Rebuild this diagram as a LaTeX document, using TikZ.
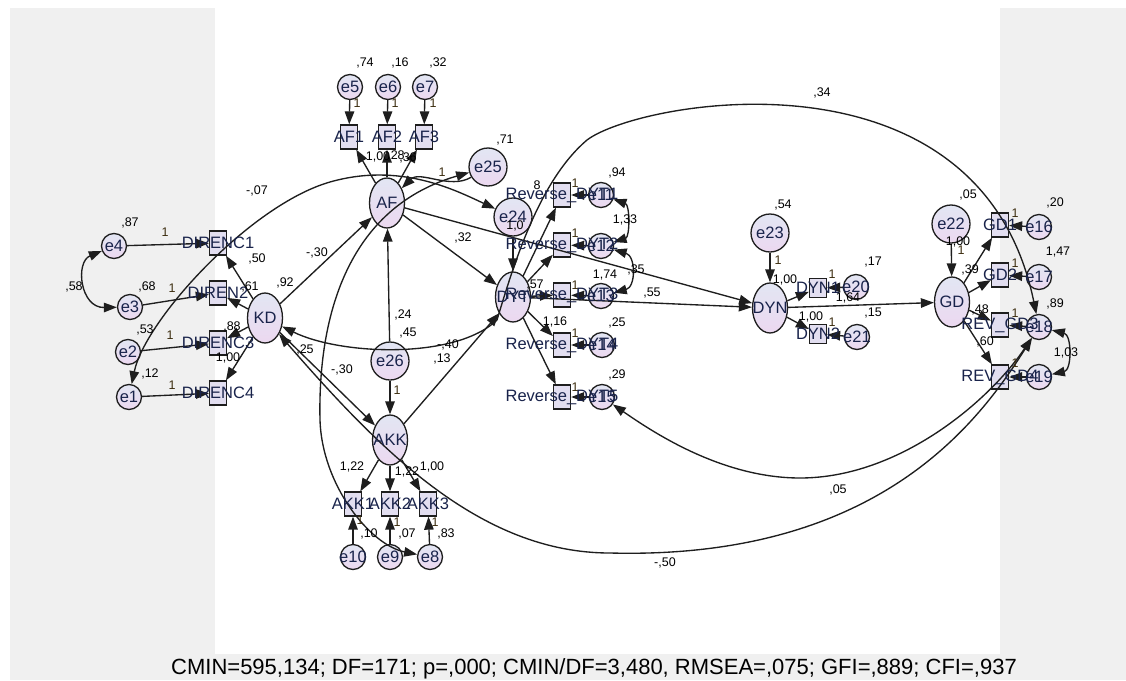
\documentclass[tikz,border=0pt]{standalone}
\usepackage{fontspec}
\setmainfont{Liberation Sans}
\usetikzlibrary{shapes.geometric,arrows.meta}
\definecolor{lc}{RGB}{30,30,30}
\definecolor{ft}{RGB}{226,230,243}
\definecolor{fb}{RGB}{236,216,240}
\definecolor{boxc}{RGB}{226,222,240}
\definecolor{nc}{RGB}{25,35,75}
\definecolor{onec}{RGB}{60,45,15}
\definecolor{bgg}{RGB}{240,240,240}
\newcommand\nmfont{\fontsize{16.5}{18}\selectfont}
\newcommand\nufont{\fontsize{12.5}{14}\selectfont}
\begin{document}
\begin{tikzpicture}[x=1pt,y=-1pt,
  lat/.style={ellipse,draw=lc,line width=1.3pt,top color=ft,bottom color=fb,minimum width=35pt,minimum height=50pt,inner sep=0pt},
  errs/.style={circle,draw=lc,line width=1.3pt,top color=ft,bottom color=fb,minimum size=25pt,inner sep=0pt},
  errl/.style={circle,draw=lc,line width=1.3pt,top color=ft,bottom color=fb,minimum size=38pt,inner sep=0pt},
  obs/.style={rectangle,draw=lc,line width=1.3pt,fill=boxc,minimum width=17pt,minimum height=24pt,inner sep=0pt},
  obss/.style={obs,minimum height=19pt},
  nm/.style={font=\nmfont,text=nc,inner sep=0pt},
  nu/.style={font=\nufont,text=black,inner sep=0pt},
  one/.style={nu,text=onec},
  arr/.style={draw=lc,line width=1.35pt,-{Triangle[length=13pt,width=9.5pt]}},
  cov/.style={draw=lc,line width=1.35pt,{Triangle[length=13pt,width=9.5pt]}-{Triangle[length=13pt,width=9.5pt]}},
]
\useasboundingbox (0,0) rectangle (1126,680);
\fill[white] (0,0) rectangle (1126,680);
\fill[bgg] (10,8) rectangle (1126,680);
\fill[white] (215,8) rectangle (1000,654);

% ---------- shapes ----------
\node[errs] (e1) at (129,397) {};
\node[errs] (e2) at (128,352) {};
\node[errs] (e3) at (130,307) {};
\node[errs] (e4) at (114,246) {};
\node[obs] (D1) at (218,243) {};
\node[obs] (D2) at (218,293) {};
\node[obs] (D3) at (218,343) {};
\node[obs] (D4) at (218,393) {};
\node[lat] (KD) at (265,318) {};

\node[lat] (AF) at (387,203) {};
\node[obs] (AF1) at (349,137) {};
\node[obs] (AF2) at (387,137) {};
\node[obs] (AF3) at (424,137) {};
\node[errs] (e5) at (350,87) {};
\node[errs] (e6) at (388,87) {};
\node[errs] (e7) at (425,87) {};
\node[errl] (e25) at (488,167) {};
\node[errl] (e24) at (513,217) {};
\node[errl] (e26) at (390,361) {};

\node[lat] (AKK) at (390,440) {};
\node[obs] (K1) at (353,504) {};
\node[obs] (K2) at (390,504) {};
\node[obs] (K3) at (428,504) {};
\node[errs] (e10) at (353,557) {};
\node[errs] (e9) at (390,557) {};
\node[errs] (e8) at (430,557) {};

\node[lat] (DYT) at (513,297) {};
\node[obs] (R1) at (562,195) {};
\node[obs] (R2) at (562,245) {};
\node[obs] (R3) at (562,295) {};
\node[obs] (R4) at (562,345) {};
\node[obs] (R5) at (562,397) {};
\node[errs] (e11) at (601,195) {};
\node[errs] (e12) at (601,246) {};
\node[errs] (e13) at (601,296) {};
\node[errs] (e14) at (602,345) {};
\node[errs] (e15) at (602,397) {};

\node[errl] (e23) at (770,233) {};
\node[lat] (DYN) at (770,308) {};
\node[obss] (N1) at (818,288) {};
\node[obss] (N2) at (818,334) {};
\node[errs] (e20) at (856,287) {};
\node[errs] (e21) at (857,337) {};

\node[errl] (e22) at (951,224) {};
\node[lat] (GD) at (952,302) {};
\node[obs] (G1) at (1000,225) {};
\node[obs] (G2) at (1000,275) {};
\node[obs] (G3) at (1000,325) {};
\node[obs] (G4) at (1000,377) {};
\node[errs] (e16) at (1039,227) {};
\node[errs] (e17) at (1039,277) {};
\node[errs] (e18) at (1039,327) {};
\node[errs] (e19) at (1039,377) {};

% ---------- straight paths ----------
\foreach \b in {D1,D2,D3,D4} \draw[arr] (KD) -- (\b);
\draw[arr] (e4) -- (D1);
\draw[arr] (e3) -- (D2);
\draw[arr] (e2) -- (D3);
\draw[arr] (e1) -- (D4);
\draw[arr] (KD) -- (AF);
\draw[arr] (KD) -- (AKK);
\foreach \b in {AF1,AF2,AF3} \draw[arr] (AF) -- (\b);
\draw[arr] (e5) -- (AF1);
\draw[arr] (e6) -- (AF2);
\draw[arr] (e7) -- (AF3);
\foreach \b in {K1,K2,K3} \draw[arr] (AKK) -- (\b);
\draw[arr] (e10) -- (K1);
\draw[arr] (e9) -- (K2);
\draw[arr] (e8) -- (K3);
\draw[arr] (e26) -- (AF);
\draw[arr] (e26) -- (AKK);
\draw[arr] (AKK) -- (DYT);
\draw[arr] (AF) -- (DYT);
\draw[arr] (AF) -- (DYN);
\draw[arr] (DYT) -- (DYN);
\draw[arr] (e24) -- (DYT);
\foreach \b in {R1,R2,R3,R4,R5} \draw[arr] (DYT) -- (\b);
\draw[arr] (e11) -- (R1);
\draw[arr] (e12) -- (R2);
\draw[arr] (e13) -- (R3);
\draw[arr] (e14) -- (R4);
\draw[arr] (e15) -- (R5);
\draw[arr] (e23) -- (DYN);
\draw[arr] (DYN) -- (N1);
\draw[arr] (DYN) -- (N2);
\draw[arr] (e20) -- (N1);
\draw[arr] (e21) -- (N2);
\draw[arr] (DYN) -- (GD);
\draw[arr] (e22) -- (GD);
\foreach \b in {G1,G2,G3,G4} \draw[arr] (GD) -- (\b);
\draw[arr] (e16) -- (G1);
\draw[arr] (e17) -- (G2);
\draw[arr] (e18) -- (G3);
\draw[arr] (e19) -- (G4);

% ---------- curved paths ----------
\draw[cov] (e4) .. controls (75,262) and (80,308) .. (e3);
\draw[cov] (e11) .. controls (630,205) and (630,237) .. (e12);
\draw[cov] (e12) .. controls (636,256) and (636,287) .. (e13);
\draw[cov] (e18) .. controls (1072,335) and (1072,370) .. (e19);

\coordinate (v07) at (330,182);
\draw[cov] (e1) .. controls (145,320) and (250,205) .. (v07) .. controls (400,162) and (455,190) .. (e24);
\draw[arr] (e25) .. controls (450,190) and (420,170) .. (AF);
\coordinate (v8) at (320,420);
\draw[cov] (e8) .. controls (370,545) and (322,485) .. (v8) .. controls (318,330) and (340,210) .. (e25);

\coordinate (v34a) at (497,320);
\coordinate (v34b) at (587,140);
\draw[cov] (KD) .. controls (340,355) and (455,360) .. (v34a) .. controls (515,260) and (540,180) .. (v34b) .. controls (640,100) and (980,40) .. (e18);

\coordinate (v05) at (800,478);
\draw[cov] (e15) .. controls (650,430) and (720,478) .. (v05) .. controls (900,478) and (990,400) .. (e18);

\coordinate (v50) at (610,553);
\draw[cov] (KD) .. controls (380,450) and (480,553) .. (v50) .. controls (880,560) and (980,420) .. (e18);

% ---------- variable names ----------
\foreach \n/\t in {e1/e1,e2/e2,e3/e3,e4/e4,e5/e5,e6/e6,e7/e7,e8/e8,e9/e9,e10/e10,e11/e11,e12/e12,e13/e13,e14/e14,e15/e15,e16/e16,e17/e17,e18/e18,e19/e19,e20/e20,e21/e21,e22/e22,e23/e23,e24/e24,e25/e25,e26/e26,KD/KD,AF/AF,AKK/AKK,DYT/DYT,DYN/DYN,GD/GD,D1/DIRENC1,D2/DIREN2,D3/DIRENC3,D4/DIRENC4,AF1/AF1,AF2/AF2,AF3/AF3,K1/AKK1,K2/AKK2,K3/AKK3,N1/DYN1,N2/DYN2,G1/GD1,G2/GD2}
  \node[nm] at (\n) {\t};
\node[nm] at (R1) {Reverse\_DYT1};
\node[nm] at (R2) {Reverse\_DYT2};
\node[nm] at (R3) {Reverse\_DYT3};
\node[nm] at (R4) {Reverse\_DYT4};
\node[nm] at (R5) {Reverse\_DYT5};
\node[nm] at (G3) {REV\_GD3};
\node[nm] at (G4) {REV\_GD4};

% ---------- estimates ----------
\node[nu] at (130,223) {,87};
\node[one] at (165,232) {1};
\node[nu] at (147,287) {,68};
\node[one] at (172,288) {1};
\node[nu] at (145,330) {,53};
\node[one] at (170,335) {1};
\node[nu] at (150,374) {,12};
\node[one] at (172,385) {1};
\node[nu] at (74,287) {,58};
\node[nu] at (257,191) {-,07};
\node[nu] at (257,259) {,50};
\node[nu] at (250,287) {,61};
\node[nu] at (285,283) {,92};
\node[nu] at (232,327) {,88};
\node[nu] at (228,358) {1,00};
\node[nu] at (317,253) {-,30};
\node[nu] at (305,350) {,25};
\node[nu] at (342,370) {-,30};

\node[nu] at (365,63) {,74};
\node[nu] at (400,63) {,16};
\node[nu] at (438,63) {,32};
\node[one] at (357,103) {1};
\node[one] at (395,103) {1};
\node[one] at (433,103) {1};
\node[nu] at (378,157) {1,00};
\node[nu] at (396,156) {,28};
\node[nu] at (408,158) {,36};
\node[nu] at (505,140) {,71};
\node[one] at (442,172) {1};
\node[nu] at (463,238) {,32};

\node[nu] at (403,315) {,24};
\node[nu] at (408,333) {,45};
\node[nu] at (448,345) {-,40};
\node[nu] at (442,359) {,13};
\node[one] at (397,390) {1};
\node[nu] at (352,467) {1,22};
\node[nu] at (407,472) {1,22};
\node[nu] at (432,467) {1,00};
\node[one] at (360,520) {1};
\node[one] at (397,522) {1};
\node[one] at (435,522) {1};
\node[nu] at (369,534) {,10};
\node[nu] at (407,534) {,07};
\node[nu] at (446,534) {,83};

\node[nu] at (537,185) {8};
\node[nu] at (515,226) {1,0};
\node[nu] at (617,173) {,94};
\node[one] at (575,183) {1};
\node[one] at (575,233) {1};
\node[one] at (575,285) {1};
\node[one] at (575,333) {1};
\node[one] at (575,387) {1};
\node[nu] at (625,220) {1,33};
\node[nu] at (605,275) {1,74};
\node[nu] at (636,270) {,35};
\node[nu] at (535,285) {,57};
\node[nu] at (555,322) {1,16};
\node[nu] at (617,323) {,25};
\node[nu] at (617,375) {,29};
\node[nu] at (652,293) {,55};

\node[nu] at (783,205) {,54};
\node[one] at (778,260) {1};
\node[nu] at (785,280) {1,00};
\node[nu] at (811,317) {1,00};
\node[one] at (832,274) {1};
\node[one] at (832,322) {1};
\node[nu] at (873,262) {,17};
\node[nu] at (848,298) {1,64};
\node[nu] at (873,313) {,15};

\node[nu] at (968,195) {,05};
\node[nu] at (958,242) {1,00};
\node[one] at (961,250) {1};
\node[nu] at (970,270) {,39};
\node[nu] at (980,310) {,48};
\node[nu] at (985,342) {,60};
\node[one] at (1015,213) {1};
\node[one] at (1015,263) {1};
\node[one] at (1015,313) {1};
\node[one] at (1015,363) {1};
\node[nu] at (1055,203) {,20};
\node[nu] at (1058,252) {1,47};
\node[nu] at (1055,304) {,89};
\node[nu] at (1066,353) {1,03};

\node[nu] at (822,93) {,34};
\node[nu] at (838,490) {,05};
\node[nu] at (665,563) {-,50};

\node[font=\fontsize{22}{24}\selectfont,inner sep=0pt] at (594,669) {CMIN=595,134; DF=171; p=,000; CMIN/DF=3,480, RMSEA=,075; GFI=,889; CFI=,937};
\end{tikzpicture}
\end{document}
